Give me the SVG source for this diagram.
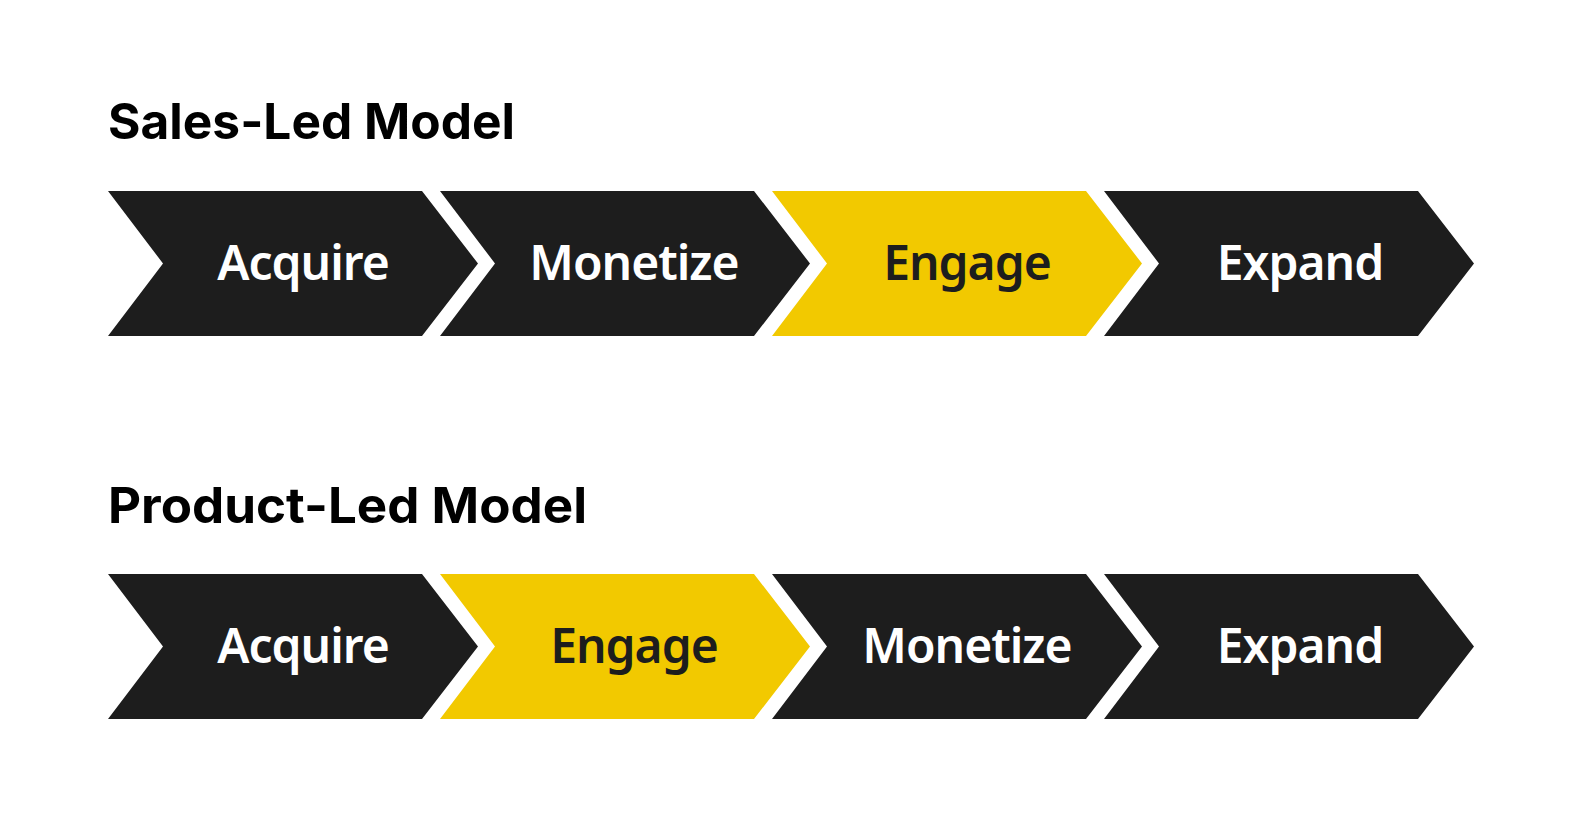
<svg xmlns="http://www.w3.org/2000/svg" width="1572" height="834" viewBox="0 0 1572 834">
<style>
.title{font-family:"Inter","Liberation Sans",sans-serif;font-weight:700;font-size:49px;fill:#000}
.dark{fill:#1d1d1d}
.yel{fill:#f2c900}
.lbl{font-family:"Noto Sans","Open Sans",sans-serif;font-weight:600;font-size:48px;letter-spacing:-1px;text-anchor:middle}
.lw{fill:#ffffff}
.ld{fill:#1d1d1d}
</style>
<defs>
<path id="chev" d="M0,0 H314 L370,72.5 L314,145 H0 L55,72.5 Z"/>
</defs>
<rect width="1572" height="834" fill="#ffffff"/>
<text class="title" x="108" y="139" textLength="407" lengthAdjust="spacingAndGlyphs">Sales-Led Model</text>
<text class="title" x="108" y="523" textLength="479" lengthAdjust="spacingAndGlyphs">Product-Led Model</text>
<g id="connectors"></g>
<g id="s-acquire"><use href="#chev" x="108" y="191" class="dark"/><text class="lbl lw" x="303" y="280">Acquire</text></g>
<g id="s-monetize"><use href="#chev" x="440" y="191" class="dark"/><text class="lbl lw" x="634" y="280">Monetize</text></g>
<g id="s-engage"><use href="#chev" x="772" y="191" class="yel"/><text class="lbl ld" x="967" y="280">Engage</text></g>
<g id="s-expand"><use href="#chev" x="1104" y="191" class="dark"/><text class="lbl lw" x="1300" y="280">Expand</text></g>
<g id="p-acquire"><use href="#chev" x="108" y="574" class="dark"/><text class="lbl lw" x="303" y="663">Acquire</text></g>
<g id="p-engage"><use href="#chev" x="440" y="574" class="yel"/><text class="lbl ld" x="634" y="663">Engage</text></g>
<g id="p-monetize"><use href="#chev" x="772" y="574" class="dark"/><text class="lbl lw" x="967" y="663">Monetize</text></g>
<g id="p-expand"><use href="#chev" x="1104" y="574" class="dark"/><text class="lbl lw" x="1300" y="663">Expand</text></g>
</svg>
